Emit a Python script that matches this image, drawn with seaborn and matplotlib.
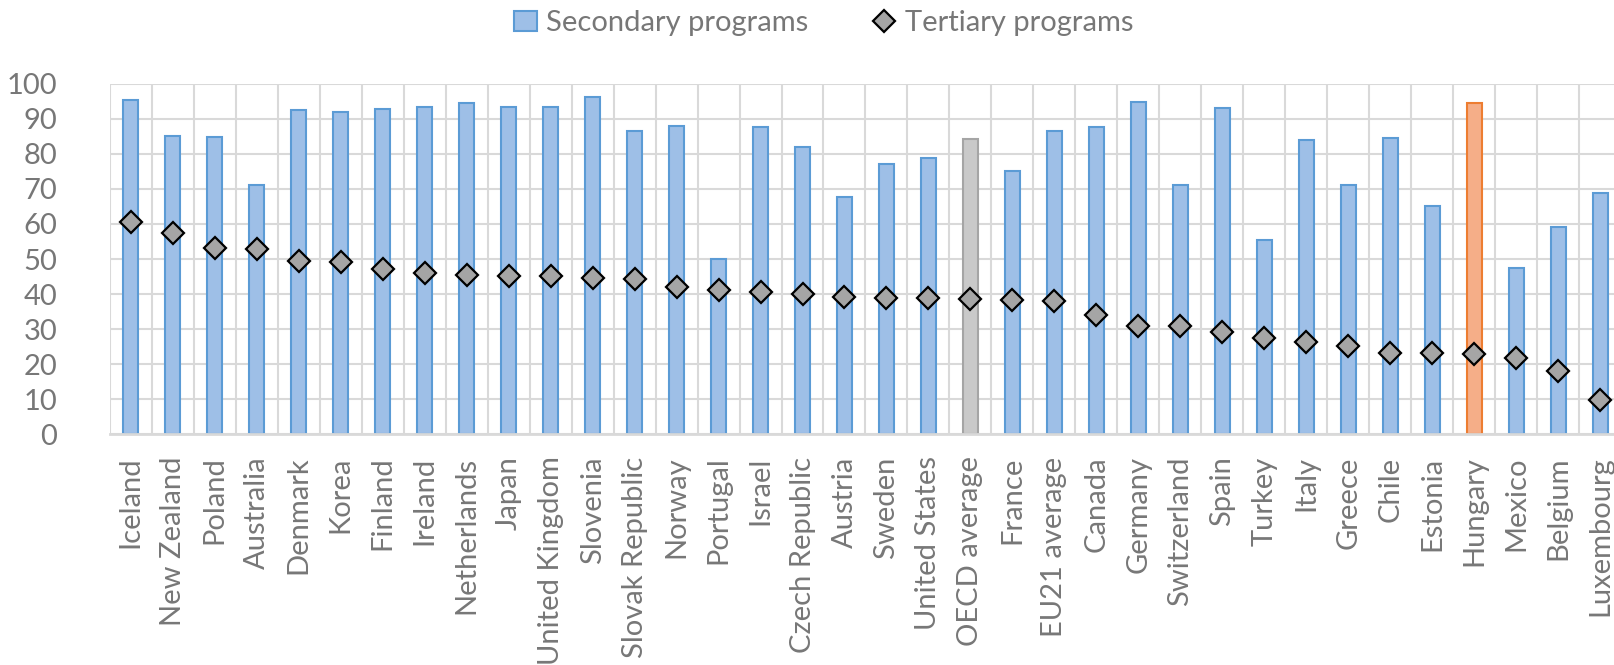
import matplotlib
matplotlib.use("Agg")
import matplotlib.pyplot as plt
from matplotlib.lines import Line2D
from matplotlib.patches import Patch
import seaborn as sns

countries = [
    "Iceland", "New Zealand", "Poland", "Australia", "Denmark", "Korea",
    "Finland", "Ireland", "Netherlands", "Japan", "United Kingdom",
    "Slovenia", "Slovak Republic", "Norway", "Portugal", "Israel",
    "Czech Republic", "Austria", "Sweden", "United States", "OECD average",
    "France", "EU21 average", "Canada", "Germany", "Switzerland", "Spain",
    "Turkey", "Italy", "Greece", "Chile", "Estonia", "Hungary", "Mexico",
    "Belgium", "Luxembourg",
]
secondary = [
    95.4, 85.2, 84.7, 71.0, 92.4, 92.0, 92.8, 93.4, 94.5, 93.4, 93.4,
    96.2, 86.6, 88.0, 50.1, 87.6, 82.1, 67.8, 77.2, 78.7, 84.3,
    75.0, 86.4, 87.7, 94.7, 71.0, 93.1, 55.5, 84.0, 71.0, 84.5,
    65.1, 94.5, 47.5, 59.1, 68.9,
]
tertiary = [
    60.5, 57.5, 53.1, 53.0, 49.5, 49.1, 47.1, 46.0, 45.5, 45.2, 45.1,
    44.6, 44.4, 42.0, 41.3, 40.6, 39.9, 39.1, 38.9, 38.8, 38.7,
    38.2, 38.0, 34.1, 31.0, 30.8, 29.2, 27.4, 26.2, 25.3, 23.3,
    23.3, 22.9, 21.8, 18.1, 9.7,
]
y_ticks = list(range(0, 101, 10))

BLUE_FILL, BLUE_EDGE = "#9EBFE7", "#5B9BD5"
GREY_FILL, GREY_EDGE = "#C9C9C9", "#A5A5A5"
ORANGE_FILL, ORANGE_EDGE = "#F5AE88", "#ED7D31"
TEXT = "#777777"
GRID = "#D9D9D9"

sns.set_style("white")
plt.rcParams["font.family"] = ["Lato", "DejaVu Sans"]

fills, edges = [], []
for c in countries:
    if c == "OECD average":
        fills.append(GREY_FILL); edges.append(GREY_EDGE)
    elif c == "Hungary":
        fills.append(ORANGE_FILL); edges.append(ORANGE_EDGE)
    else:
        fills.append(BLUE_FILL); edges.append(BLUE_EDGE)

fig = plt.figure(figsize=(16.15, 6.65), dpi=100)
ax = fig.add_axes([0.068, 0.347, 0.9358, 0.527])

sns.barplot(x=countries, y=secondary, hue=countries, palette=fills,
            legend=False, width=0.36, saturation=1, ax=ax)
for bar, ec in zip(ax.patches, edges):
    bar.set_edgecolor(ec)
    bar.set_linewidth(1.5)

sns.pointplot(x=countries, y=tertiary, color="#A5A5A5", markers="D",
              linestyles="none", errorbar=None, ax=ax,
              markersize=11, markeredgecolor="black", markeredgewidth=1.6)

ax.set_ylim(0, 100)
ax.set_xlim(-0.5, len(countries) - 0.5)
ax.set_yticks(y_ticks)
ax.set_xticks(range(len(countries)))
ax.set_xticks([i - 0.5 for i in range(len(countries) + 1)], minor=True)
ax.set_xticklabels(countries, rotation=90)
ax.grid(axis="y", color=GRID, lw=1.5)
ax.grid(axis="x", which="minor", color=GRID, lw=1.5)
ax.set_axisbelow(True)
ax.tick_params(axis="both", which="both", length=0, labelsize=21, colors=TEXT)
ax.tick_params(axis="y", pad=38)
ax.tick_params(axis="x", pad=16)
for name, sp in ax.spines.items():
    sp.set_visible(name == "bottom")
ax.spines["bottom"].set_color(GRID)
ax.spines["bottom"].set_linewidth(2)
ax.set_xlabel("")
ax.set_ylabel("")

handles = [
    Patch(facecolor=BLUE_FILL, edgecolor=BLUE_EDGE, lw=1.5, label="Secondary programs"),
    Line2D([], [], marker="D", ls="none", markersize=11, markerfacecolor="#A5A5A5",
           markeredgecolor="black", markeredgewidth=1.6, label="Tertiary programs"),
]
fig.legend(handles=handles, loc="center", bbox_to_anchor=(0.51, 0.965), ncol=2,
           frameon=False, fontsize=21, labelcolor=TEXT, handlelength=0.8,
           handletextpad=0.3, columnspacing=2.2)

fig.savefig("out.png", dpi=100)
